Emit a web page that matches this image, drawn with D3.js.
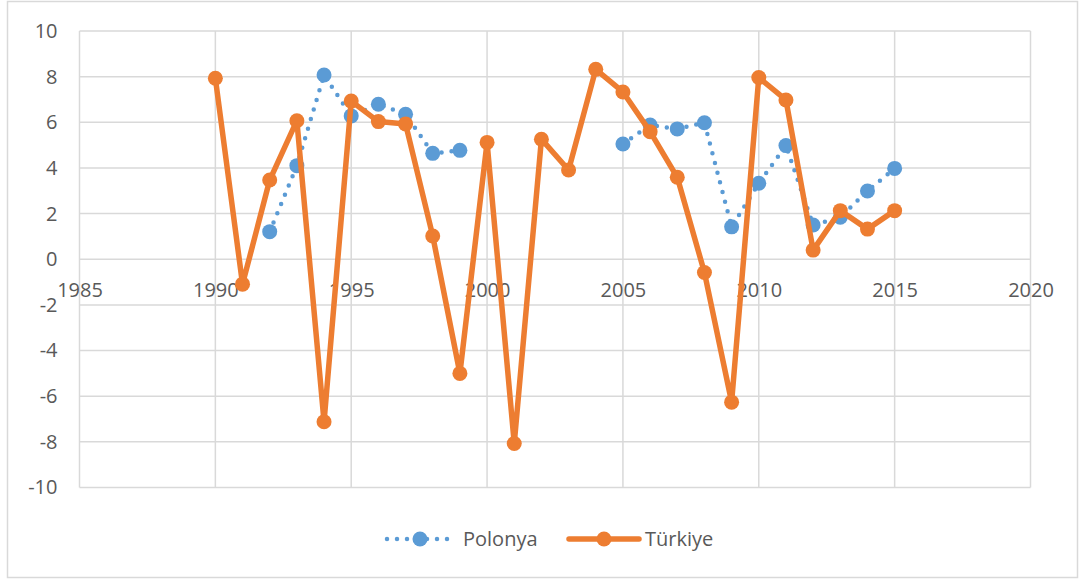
<!DOCTYPE html>
<html>
<head>
<meta charset="utf-8">
<script src="https://cdn.jsdelivr.net/npm/d3@7"></script>
<style>
  body { margin: 0; background: #fff; }
  svg { display: block; font-family: "Open Sans", "Noto Sans", sans-serif; }
</style>
</head>
<body>
<svg id="chart" width="1080" height="579"></svg>
<script>
// years and values
const years = [1990, 1991, 1992, 1993, 1994, 1995, 1996, 1997, 1998, 1999,
  2000, 2001, 2002, 2003, 2004, 2005, 2006, 2007, 2008, 2009,
  2010, 2011, 2012, 2013, 2014, 2015];

// Polonya has no values for 1990-1991 and 2000-2004
const polonya = [null, null, 1.21, 4.10, 8.07, 6.28, 6.79, 6.35, 4.64, 4.77,
  null, null, null, null, null, 5.05, 5.88, 5.71, 5.98, 1.42,
  3.33, 4.98, 1.50, 1.84, 2.99, 3.98];

const turkiye = [7.93, -1.09, 3.47, 6.07, -7.12, 6.93, 6.03, 5.93, 1.02, -5.00,
  5.12, -8.07, 5.26, 3.91, 8.32, 7.33, 5.59, 3.59, -0.58, -6.26,
  7.96, 6.98, 0.40, 2.13, 1.32, 2.13];

const xTicks = [1985, 1990, 1995, 2000, 2005, 2010, 2015, 2020];
const yTicks = [-10, -8, -6, -4, -2, 0, 2, 4, 6, 8, 10];

const seriesNames = ["Polonya", "Türkiye"];
const colors = ["#5B9BD5", "#ED7D31"];

const svg = d3.select("#chart");

// outer chart frame
svg.append("rect")
  .attr("x", 7.5).attr("y", 1.5)
  .attr("width", 1070).attr("height", 576)
  .attr("fill", "#fff")
  .attr("stroke", "#D9D9D9")
  .attr("stroke-width", 1.5);

const x = d3.scaleLinear().domain([1985, 2020]).range([79.5, 1030.5]);
const y = d3.scaleLinear().domain([-10, 10]).range([487.5, 31]);

// gridlines
const grid = svg.append("g").attr("stroke", "#D9D9D9").attr("stroke-width", 1.5);
grid.selectAll(".h").data(yTicks).join("line")
  .attr("x1", x(1985)).attr("x2", x(2020))
  .attr("y1", d => y(d)).attr("y2", d => y(d));
grid.selectAll(".v").data(xTicks).join("line")
  .attr("x1", d => x(d)).attr("x2", d => x(d))
  .attr("y1", y(10)).attr("y2", y(-10));

// y axis labels (plain hyphen for negatives, like the original)
svg.append("g")
  .attr("transform", `translate(${x(1985)},0)`)
  .call(d3.axisLeft(y).tickValues(yTicks).tickFormat(d => String(d)).tickSize(0).tickPadding(22))
  .call(g => g.select(".domain").remove())
  .selectAll("text")
  .attr("font-size", 20)
  .attr("font-family", "Open Sans")
  .attr("fill", "#595959");

// x axis labels sit on the zero line
svg.append("g")
  .attr("transform", `translate(0,${y(0)})`)
  .call(d3.axisBottom(x).tickValues(xTicks).tickFormat(d3.format("d")).tickSize(0).tickPadding(24))
  .call(g => g.select(".domain").remove())
  .selectAll("text")
  .attr("font-size", 20)
  .attr("font-family", "Open Sans")
  .attr("fill", "#595959");

const line = d3.line()
  .defined(d => d.v !== null)
  .x(d => x(d.year))
  .y(d => y(d.v));

const polData = years.map((yr, i) => ({ year: yr, v: polonya[i] }));
const turData = years.map((yr, i) => ({ year: yr, v: turkiye[i] }));

// Polonya - dotted line
svg.append("path")
  .datum(polData)
  .attr("d", line)
  .attr("fill", "none")
  .attr("stroke", colors[0])
  .attr("stroke-width", 4.5)
  .attr("stroke-linecap", "round")
  .attr("stroke-dasharray", "0 10");

svg.append("g")
  .selectAll("circle")
  .data(polData.filter(d => d.v !== null))
  .join("circle")
  .attr("cx", d => x(d.year))
  .attr("cy", d => y(d.v))
  .attr("r", 7.5)
  .attr("fill", colors[0]);

// Türkiye - solid line
svg.append("path")
  .datum(turData)
  .attr("d", line)
  .attr("fill", "none")
  .attr("stroke", colors[1])
  .attr("stroke-width", 5.5)
  .attr("stroke-linejoin", "round");

svg.append("g")
  .selectAll("circle")
  .data(turData)
  .join("circle")
  .attr("cx", d => x(d.year))
  .attr("cy", d => y(d.v))
  .attr("r", 7.5)
  .attr("fill", colors[1]);

// legend
const legendY = 539;
const leg0 = svg.append("g");
leg0.append("line")
  .attr("x1", 387).attr("x2", 455).attr("y1", legendY).attr("y2", legendY)
  .attr("stroke", colors[0]).attr("stroke-width", 4.5)
  .attr("stroke-linecap", "round").attr("stroke-dasharray", "0 10");
leg0.append("circle").attr("cx", 420).attr("cy", legendY).attr("r", 7.5).attr("fill", colors[0]);
leg0.append("text")
  .attr("x", 463).attr("y", legendY).attr("dy", "0.35em")
  .attr("font-size", 20).attr("fill", "#595959")
  .text(seriesNames[0]);

const leg1 = svg.append("g");
leg1.append("line")
  .attr("x1", 569).attr("x2", 639).attr("y1", legendY).attr("y2", legendY)
  .attr("stroke", colors[1]).attr("stroke-width", 5.5).attr("stroke-linecap", "round");
leg1.append("circle").attr("cx", 604).attr("cy", legendY).attr("r", 7.5).attr("fill", colors[1]);
leg1.append("text")
  .attr("x", 645).attr("y", legendY).attr("dy", "0.35em")
  .attr("font-size", 20).attr("fill", "#595959")
  .text(seriesNames[1]);
</script>
</body>
</html>
